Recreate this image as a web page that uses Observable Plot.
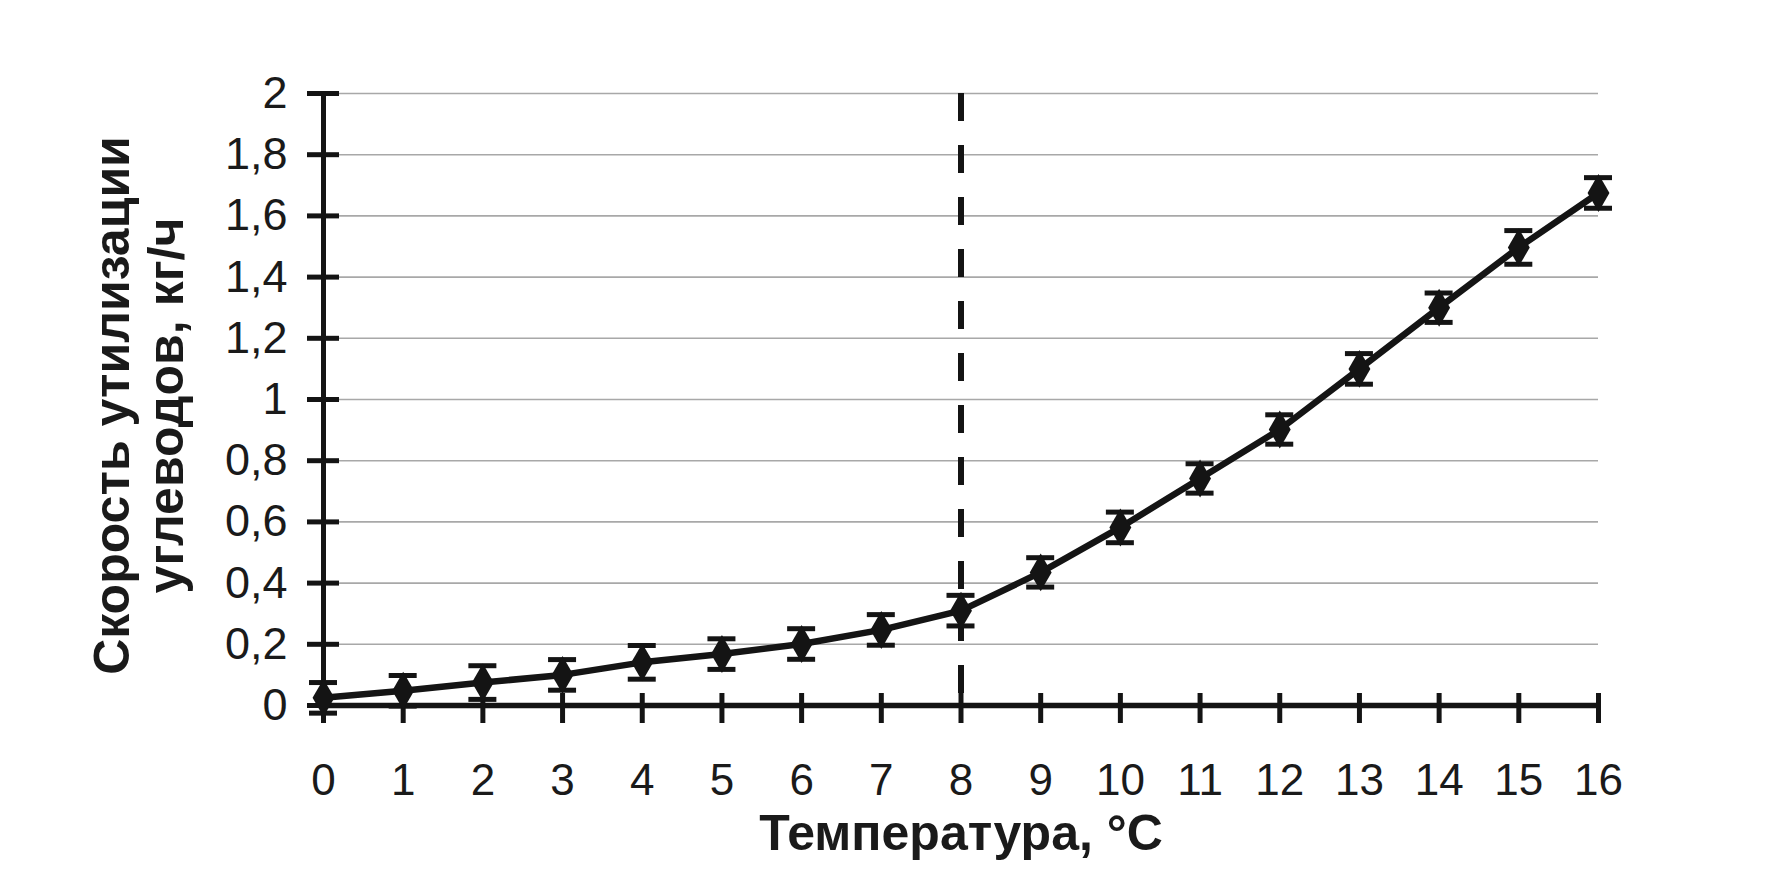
<!DOCTYPE html>
<html>
<head>
<meta charset="utf-8">
<script src="https://cdn.jsdelivr.net/npm/d3@7"></script>
<script src="https://cdn.jsdelivr.net/npm/@observablehq/plot@0.6"></script>
<style>
  html, body { margin: 0; padding: 0; background: #fff; }
  #chart svg { display: block; }
</style>
</head>
<body>
<div id="chart"></div>
<script>
// Temperature, °C
const temps = [0, 1, 2, 3, 4, 5, 6, 7, 8, 9, 10, 11, 12, 13, 14, 15, 16];
// Carbohydrate utilisation rate, kg/h
const rates = [0.025, 0.048, 0.075, 0.10, 0.141, 0.168, 0.201, 0.247, 0.31, 0.435, 0.582, 0.742, 0.902, 1.10, 1.30, 1.497, 1.675];
// Error half-widths
const errors = [0.05, 0.05, 0.055, 0.05, 0.055, 0.05, 0.05, 0.05, 0.05, 0.048, 0.05, 0.048, 0.048, 0.05, 0.048, 0.055, 0.05];
// Threshold temperature (dashed line)
const threshold = [8];
// Ticks
const xTicks = [0, 1, 2, 3, 4, 5, 6, 7, 8, 9, 10, 11, 12, 13, 14, 15, 16];
const yTicks = [0, 0.2, 0.4, 0.6, 0.8, 1, 1.2, 1.4, 1.6, 1.8, 2];
const yTickLabels = ["0", "0,2", "0,4", "0,6", "0,8", "1", "1,2", "1,4", "1,6", "1,8", "2"];
const xTitle = "Температура, °C";
const yTitle = "Скорость утилизации\nуглеводов, кг/ч";

const data = temps.map((t, i) => ({t, v: rates[i], lo: rates[i] - errors[i], hi: rates[i] + errors[i]}));
const ink = "#141414";

const chart = Plot.plot({
  width: 1781,
  height: 875,
  marginLeft: 323,
  marginRight: 183,
  marginTop: 93,
  marginBottom: 170,
  x: {domain: [0, 16]},
  y: {domain: [0, 2]},
  style: {fontFamily: "'Liberation Sans', Arial, sans-serif", background: "#fff", color: "#1a1a1a"},
  marks: [
    // grid
    Plot.ruleY(yTicks.filter(d => d > 0), {stroke: "#a8a8a8", strokeWidth: 1.6}),
    // dashed threshold line
    Plot.ruleX(threshold, {y1: 2, y2: 0, stroke: ink, strokeWidth: 6, strokeDasharray: "28 24"}),
    // axes lines
    Plot.ruleX([0], {y1: 0, y2: 2, stroke: ink, strokeWidth: 5}),
    Plot.ruleY([0], {x1: 0, x2: 16, stroke: ink, strokeWidth: 5.5}),
    // axis ticks crossing the axes
    Plot.ruleY(yTicks, {x1: 0, x2: 0, insetLeft: -16, insetRight: -16, stroke: ink, strokeWidth: 5}),
    Plot.ruleX(xTicks, {y1: 0, y2: 0, insetTop: -12, insetBottom: -18, stroke: ink, strokeWidth: 5}),
    // tick labels
    Plot.axisX({ticks: xTicks, tickSize: 0, tickPadding: 58, fontSize: 44, label: null, tickFormat: d => String(d)}),
    Plot.axisY({ticks: yTicks, tickSize: 0, tickPadding: 36, fontSize: 45, label: null,
      tickFormat: d => yTickLabels[yTicks.indexOf(d)]}),
    // error bars
    Plot.ruleX(data, {x: "t", y1: "lo", y2: "hi", stroke: ink, strokeWidth: 3.5}),
    Plot.ruleY(data, {y: "hi", x1: "t", x2: "t", insetLeft: -14, insetRight: -14, stroke: ink, strokeWidth: 5}),
    Plot.ruleY(data, {y: "lo", x1: "t", x2: "t", insetLeft: -14, insetRight: -14, stroke: ink, strokeWidth: 5}),
    // line + markers
    Plot.line(data, {x: "t", y: "v", stroke: ink, strokeWidth: 6.5}),
    Plot.dot(data, {x: "t", y: "v", symbol: "diamond", r: 11.5, fill: ink, stroke: "none"}),
    // titles
    Plot.text([xTitle], {text: d => d, frameAnchor: "bottom", dy: 144, fontSize: 50, fontWeight: "bold", fill: "#1a1a1a"}),
    Plot.text([yTitle], {text: d => d, frameAnchor: "left", textAnchor: "middle", rotate: -90, dx: -185, dy: 6,
      fontSize: 50, fontWeight: "bold", lineHeight: 1.08, fill: "#1a1a1a"})
  ]
});
document.getElementById("chart").appendChild(chart);
</script>
</body>
</html>
